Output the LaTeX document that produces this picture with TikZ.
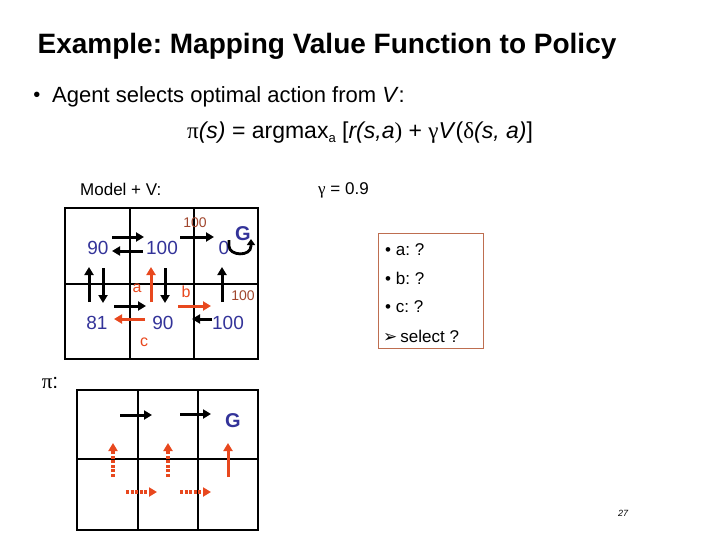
\documentclass[tikz,border=0pt]{standalone}
\usepackage{fontspec}
\setmainfont{Liberation Sans}
\newfontfamily\grk{Liberation Serif}
\newfontfamily\dvs{DejaVu Sans}
\usetikzlibrary{arrows.meta}
\definecolor{valblue}{RGB}{51,51,153}
\definecolor{actred}{RGB}{232,72,30}
\definecolor{rewbrown}{RGB}{160,70,45}
\definecolor{boxcol}{RGB}{190,110,80}
\tikzset{
  gridln/.style={line width=2.2pt,black},
  blkarr/.style={line width=3pt,black,-{Triangle[length=8pt,width=9pt]}},
  redarr/.style={line width=3pt,actred,-{Triangle[length=8pt,width=9pt]}},
  reddot/.style={line width=3.5pt,actred,dash pattern=on 3pt off 1.6pt,-{Triangle[length=8pt,width=9pt]}},
  val/.style={text=valblue,font=\fontsize{19}{22}\selectfont,inner sep=0pt},
  rew/.style={text=rewbrown,font=\fontsize{14}{16}\selectfont,inner sep=0pt},
  lbl/.style={text=actred,font=\fontsize{16}{18}\selectfont,inner sep=0pt},
  goal/.style={text=valblue,font=\fontsize{20}{22}\selectfont\bfseries,inner sep=0pt},
  boxtxt/.style={font=\fontsize{17}{20}\selectfont,inner sep=0pt,anchor=west}
}
\frenchspacing
\begin{document}
\begin{tikzpicture}[x=1pt,y=-1pt]
\useasboundingbox (0,0) rectangle (720,540);
% title
\node[font=\fontsize{28}{32}\selectfont\bfseries,inner sep=0pt] (title) at (327,46) {Example: Mapping Value Function to Policy};
\node[font=\fontsize{20}{24}\selectfont,inner sep=0pt] (bul) at (37,97) {•};
\node[font=\fontsize{22}{26}\selectfont,inner sep=0pt,anchor=west] (agent) at (52,97) {Agent selects optimal action from \textit{V}:};
\node[font=\fontsize{23}{26}\selectfont,inner sep=0pt,anchor=west] (formula) at (187,133)
  {{\grk π}\textit{(s)} = argmax\raisebox{-4pt}{\fontsize{13}{13}\selectfont a} [\textit{r(s,a}{\grk )} + {\grk γ}\textit{V}({\grk δ}\textit{(s, a)}]};
\node[font=\fontsize{17}{20}\selectfont,inner sep=0pt,anchor=west] (model) at (80,189) {Model + V:};
\node[font=\fontsize{17}{20}\selectfont,inner sep=0pt,anchor=west] (gamma) at (318,190) {{\grk γ} = 0.9};

% top grid
\draw[gridln] (65,208) rectangle (258,359);
\draw[gridln] (130,208) -- (130,359);
\draw[gridln] (194,208) -- (194,359);
\draw[gridln] (65,284) -- (258,284);

\node[val] (v11) at (98,248) {90};
\node[val] (v12) at (162,248) {100};
\node[val] (v13) at (224,248) {0};
\node[goal] (g1) at (243,234) {G};
\node[val] (v21) at (97,323) {81};
\node[val] (v22) at (163,323) {90};
\node[val] (v23) at (228,323) {100};
\node[rew] (r1) at (195,223) {100};
\node[rew] (r2) at (243,296) {100};
\node[lbl] (la) at (137,288) {a};
\node[lbl] (lb) at (186,292) {b};
\node[lbl] (lc) at (144,342) {c};

\coordinate (t1a) at (112,237); \coordinate (t1b) at (144,237);
\coordinate (t2a) at (143,251); \coordinate (t2b) at (112,251);
\coordinate (t3a) at (180,237); \coordinate (t3b) at (214,237);
\draw[blkarr] (t1a) -- (t1b);
\draw[blkarr] (t2a) -- (t2b);
\draw[blkarr] (t3a) -- (t3b);
\coordinate (u1a) at (89,302); \coordinate (u1b) at (89,267);
\coordinate (d1a) at (103,268); \coordinate (d1b) at (103,303);
\coordinate (u2a) at (151,302); \coordinate (u2b) at (151,267);
\coordinate (d2a) at (165,268); \coordinate (d2b) at (165,303);
\coordinate (u3a) at (222,302); \coordinate (u3b) at (222,267);
\draw[blkarr] (u1a) -- (u1b);
\draw[blkarr] (d1a) -- (d1b);
\draw[redarr] (u2a) -- (u2b);
\draw[blkarr] (d2a) -- (d2b);
\draw[blkarr] (u3a) -- (u3b);
\coordinate (b1a) at (114,306); \coordinate (b1b) at (146,306);
\coordinate (b2a) at (145,319); \coordinate (b2b) at (114,319);
\coordinate (b3a) at (178,306); \coordinate (b3b) at (211,306);
\coordinate (b4a) at (212,319); \coordinate (b4b) at (192,319);
\draw[blkarr] (b1a) -- (b1b);
\draw[redarr] (b2a) -- (b2b);
\draw[redarr] (b3a) -- (b3b);
\draw[blkarr] (b4a) -- (b4b);
% self loop at G
\coordinate (lpa) at (229,240); \coordinate (lpb) at (251,239);
\draw[line width=2.8pt,-{Triangle[length=6pt,width=8pt]}] (lpa) -- (229,246) .. controls (229,256) and (251,257) .. (251,246) -- (lpb);

% text box
\draw[boxcol,line width=1pt] (378,233) rectangle (483,348);
\node[boxtxt] (ta) at (385,250) {• a: ?};
\node[boxtxt] (tb) at (385,278) {• b: ?};
\node[boxtxt] (tc) at (385,307) {• c: ?};
\node[boxtxt] (ts) at (383,336) {{\dvs\fontsize{17}{18}\selectfont ➢}\hspace{3pt}select ?};

% pi label
\node[font=\fontsize{21}{24}\selectfont,inner sep=0pt] (pi) at (50,383) {{\grk π}:};

% bottom grid
\draw[gridln] (77,390) rectangle (258,530);
\draw[gridln] (138,390) -- (138,530);
\draw[gridln] (198,390) -- (198,530);
\draw[gridln] (77,459) -- (258,459);
\node[goal] (g2) at (233,421) {G};
\coordinate (p1a) at (120,415); \coordinate (p1b) at (152,415);
\coordinate (p2a) at (180,414); \coordinate (p2b) at (211,414);
\draw[blkarr] (p1a) -- (p1b);
\draw[blkarr] (p2a) -- (p2b);
\coordinate (q1a) at (113,477); \coordinate (q1b) at (113,443);
\coordinate (q2a) at (168,477); \coordinate (q2b) at (168,443);
\coordinate (q3a) at (228,477); \coordinate (q3b) at (228,443);
\draw[reddot] (q1a) -- (q1b);
\draw[reddot] (q2a) -- (q2b);
\draw[redarr] (q3a) -- (q3b);
\coordinate (s1a) at (126,492); \coordinate (s1b) at (157,492);
\coordinate (s2a) at (180,492); \coordinate (s2b) at (211,492);
\draw[reddot] (s1a) -- (s1b);
\draw[reddot] (s2a) -- (s2b);

% page number
\node[font=\fontsize{9}{10}\selectfont\itshape,inner sep=0pt] (pg) at (623,513) {27};
\end{tikzpicture}
\end{document}
